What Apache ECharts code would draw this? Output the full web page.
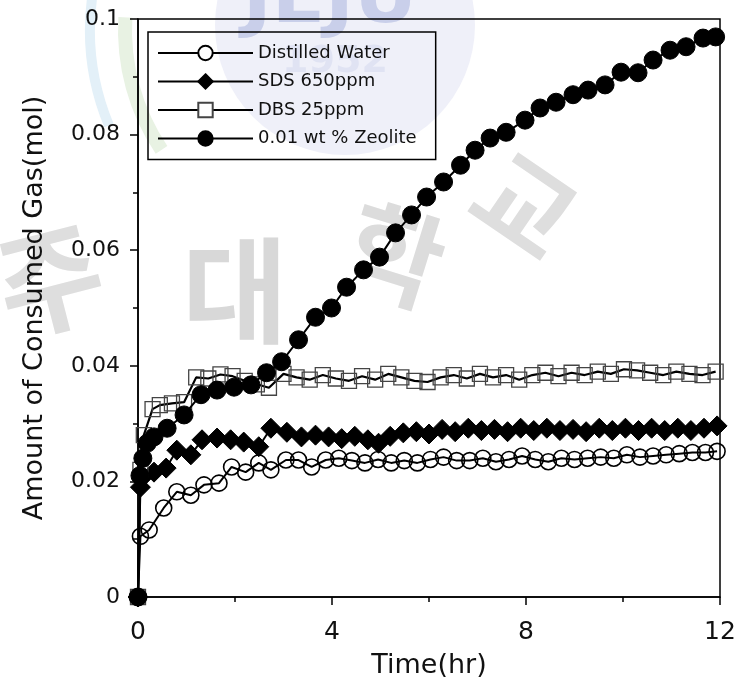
<!DOCTYPE html>
<html><head><meta charset="utf-8">
<script src="https://cdn.jsdelivr.net/npm/echarts@6/dist/echarts.min.js"></script>
<style>html,body{margin:0;padding:0;background:#fff}#c{width:737px;height:681px}</style>
</head><body><div id="c"></div>
<script>
var xTicks = [0, 4, 8, 12];
var yTicks = [0, 0.02, 0.04, 0.06, 0.08, 0.1];
var seriesNames = ['Distilled Water', 'SDS 650ppm', 'DBS 25ppm', '0.01 wt % Zeolite'];

var waterX = [0,0.05,0.23,0.53,0.8,1.09,1.36,1.67,1.93,2.22,2.49,2.74,3.05,3.31,3.58,3.87,4.14,4.41,4.68,4.95,5.22,5.49,5.76,6.03,6.30,6.57,6.84,7.11,7.38,7.65,7.92,8.19,8.46,8.73,9.00,9.27,9.54,9.81,10.08,10.35,10.62,10.89,11.16,11.43,11.70,11.94];
var waterY = [0,0.0105,0.0116,0.0154,0.0182,0.0176,0.0194,0.0197,0.0225,0.0216,0.0232,0.0220,0.0237,0.0237,0.0225,0.0237,0.0240,0.0236,0.0232,0.0238,0.0232,0.0236,0.0232,0.0238,0.0242,0.0236,0.0236,0.0240,0.0234,0.0238,0.0244,0.0238,0.0234,0.0240,0.0238,0.0240,0.0242,0.0240,0.0246,0.0242,0.0244,0.0246,0.0248,0.0250,0.0250,0.0252];

var sdsX = [0,0.05,0.08,0.33,0.58,0.8,1.09,1.32,1.63,1.91,2.18,2.49,2.74,3.07,3.37,3.66,3.93,4.2,4.47,4.74,4.96,5.2,5.47,5.74,6.0,6.27,6.54,6.81,7.08,7.35,7.62,7.89,8.16,8.43,8.70,8.97,9.24,9.51,9.78,10.05,10.32,10.59,10.86,11.13,11.40,11.67,11.94];
var sdsY = [0,0.0190,0.0206,0.0216,0.0223,0.0254,0.0246,0.0272,0.0275,0.0272,0.0268,0.0260,0.0292,0.0285,0.0277,0.0280,0.0277,0.0274,0.0278,0.0272,0.0266,0.0278,0.0284,0.0286,0.0282,0.0290,0.0286,0.0292,0.0288,0.0290,0.0286,0.0292,0.0288,0.0292,0.0288,0.0290,0.0286,0.0292,0.0288,0.0292,0.0288,0.0292,0.0288,0.0292,0.0288,0.0292,0.0296];

var dbsX = [0,0.05,0.12,0.3,0.45,0.7,0.95,1.2,1.45,1.7,1.95,2.2,2.45,2.7,3.0,3.27,3.54,3.81,4.08,4.35,4.62,4.89,5.16,5.43,5.70,5.97,6.24,6.51,6.78,7.05,7.32,7.59,7.86,8.13,8.40,8.67,8.94,9.21,9.48,9.75,10.02,10.29,10.56,10.83,11.10,11.37,11.64,11.91];
var dbsY = [0,0.0220,0.0280,0.0325,0.0332,0.0335,0.0337,0.0380,0.0378,0.0385,0.0382,0.0374,0.0368,0.0362,0.0386,0.0380,0.0376,0.0384,0.0378,0.0374,0.0382,0.0376,0.0386,0.0380,0.0374,0.0372,0.0380,0.0384,0.0378,0.0386,0.0380,0.0384,0.0376,0.0384,0.0388,0.0382,0.0388,0.0384,0.0390,0.0386,0.0394,0.0392,0.0388,0.0384,0.0390,0.0386,0.0384,0.0390];

var zeoX = [0,0.04,0.1,0.19,0.33,0.6,0.95,1.30,1.63,1.98,2.33,2.65,2.96,3.31,3.66,3.99,4.30,4.65,4.98,5.31,5.64,5.95,6.30,6.65,6.95,7.26,7.59,7.98,8.29,8.62,8.97,9.28,9.63,9.96,10.31,10.62,10.97,11.30,11.65,11.91];
var zeoY = [0,0.0210,0.0240,0.0266,0.0277,0.0292,0.0315,0.0350,0.0358,0.0363,0.0367,0.0388,0.0407,0.0445,0.0484,0.0500,0.0536,0.0566,0.0588,0.0630,0.0661,0.0692,0.0718,0.0747,0.0773,0.0794,0.0804,0.0825,0.0846,0.0856,0.0869,0.0877,0.0886,0.0908,0.0907,0.0929,0.0946,0.0952,0.0967,0.0969];

function pairs(xs, ys) { return xs.map(function (x, i) { return [x, ys[i]]; }); }

var FONT = '"DejaVu Sans", Arial, sans-serif';
var chart = echarts.init(document.getElementById('c'), null, {renderer: 'canvas'});

function wm(txt, cx, cy, rot, size, color, fam) {
  return {type: 'text', x: cx, y: cy, rotation: rot, z: -10, silent: true,
    style: {text: txt, fill: color, textAlign: 'center', textVerticalAlign: 'middle',
      font: 'bold ' + size + 'px ' + (fam || '"Noto Sans CJK KR"')}};
}

chart.setOption({
  animation: false,
  backgroundColor: '#fff',
  graphic: [
    {type: 'circle', shape: {cx: 345, cy: 25, r: 130}, z: -20, silent: true, style: {fill: '#eff0f9'}},
    {type: 'arc', shape: {cx: 340, cy: 30, r: 215, startAngle: 2.55, endAngle: 3.2}, z: -20, silent: true,
      style: {stroke: '#e8f2e3', lineWidth: 14, fill: null}},
    {type: 'arc', shape: {cx: 340, cy: 30, r: 250, startAngle: 2.75, endAngle: 3.3}, z: -20, silent: true,
      style: {stroke: '#e3f0f8', lineWidth: 10, fill: null}},
    wm('JEJU', 330, 2, 0, 78, '#c9cfea', '"DejaVu Sans"'),
    wm('1952', 335, 62, 0, 38, '#e0e3f3', '"DejaVu Sans"'),
    wm('주', 50, 280, 0.25, 115, '#dedede'),
    wm('대', 235, 290, 0, 115, '#d8d8d8'),
    wm('학', 395, 255, -0.3, 105, '#dcdcdc'),
    wm('교', 525, 205, -0.6, 105, '#dedede')
  ],
  grid: {left: 138, right: 17, top: 19, bottom: 84, show: true, borderColor: '#000', borderWidth: 1.5,
    containLabel: false, outerBoundsMode: 'none'},
  legend: {
    orient: 'vertical', left: 148, top: 32,
    padding: [12, 19, 12, 9], itemGap: 10.5, itemWidth: 95, itemHeight: 18,
    borderColor: '#000', borderWidth: 1.5, backgroundColor: 'transparent',
    textStyle: {fontSize: 18, color: '#111', fontFamily: FONT},
    data: [
      {name: seriesNames[0], itemStyle: {color: '#fff'}},
      {name: seriesNames[1]},
      {name: seriesNames[2], itemStyle: {color: '#fff'}},
      {name: seriesNames[3]}
    ]
  },
  xAxis: {
    type: 'value', min: 0, max: 12, interval: 4,
    axisLine: {show: true, onZero: false, lineStyle: {color: '#000', width: 1.5}},
    axisTick: {show: true, length: 8, lineStyle: {color: '#000', width: 1.5}},
    minorTick: {show: true, splitNumber: 2, length: 5, lineStyle: {color: '#000', width: 1.5}},
    splitLine: {show: false},
    axisLabel: {fontSize: 25, color: '#111', fontFamily: FONT, margin: 23},
    name: 'Time(hr)', nameLocation: 'middle', nameGap: 55,
    nameTextStyle: {fontSize: 27, color: '#111', fontFamily: FONT}
  },
  yAxis: {
    type: 'value', min: 0, max: 0.1, interval: 0.02,
    axisLine: {show: true, onZero: false, lineStyle: {color: '#000', width: 1.5}},
    axisTick: {show: true, length: 8, lineStyle: {color: '#000', width: 1.5}},
    minorTick: {show: true, splitNumber: 2, length: 5, lineStyle: {color: '#000', width: 1.5}},
    splitLine: {show: false},
    axisLabel: {fontSize: 22, color: '#111', fontFamily: FONT, margin: 18,
      formatter: function (v) { var r = Math.round(v * 100) / 100; return yTicks.indexOf(r) >= 0 ? String(r) : ''; }},
    name: 'Amount of Consumed Gas(mol)', nameLocation: 'middle', nameGap: 90,
    nameTextStyle: {fontSize: 27, color: '#111', fontFamily: FONT}
  },
  series: [
    {name: seriesNames[0], type: 'line', data: pairs(waterX, waterY), symbol: 'circle', symbolSize: 16,
      lineStyle: {color: '#000', width: 2}, itemStyle: {color: 'rgba(255,255,255,0)', borderColor: '#000', borderWidth: 1.6}, z: 2},
    {name: seriesNames[1], type: 'line', data: pairs(sdsX, sdsY), symbol: 'diamond', symbolSize: [20, 20],
      lineStyle: {color: '#000', width: 2}, itemStyle: {color: '#000', borderColor: '#000', borderWidth: 1}, z: 3},
    {name: seriesNames[2], type: 'line', data: pairs(dbsX, dbsY), symbol: 'rect', symbolSize: 15,
      lineStyle: {color: '#000', width: 2.2}, itemStyle: {color: 'rgba(255,255,255,0)', borderColor: '#444', borderWidth: 1.3}, z: 4},
    {name: seriesNames[3], type: 'line', data: pairs(zeoX, zeoY), symbol: 'circle', symbolSize: 18,
      lineStyle: {color: '#000', width: 2}, itemStyle: {color: '#000', borderColor: '#000', borderWidth: 1}, z: 5}
  ]
});
</script></body></html>
